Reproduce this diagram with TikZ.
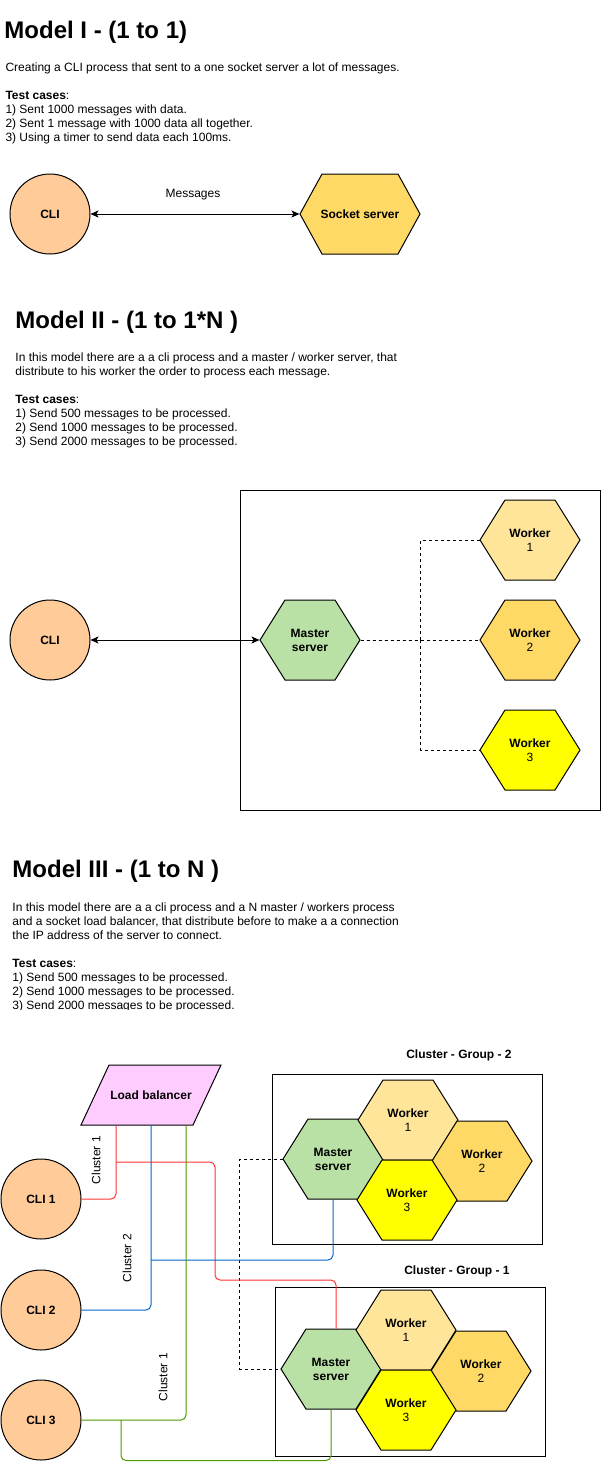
\documentclass[tikz,border=0pt]{standalone}
\usepackage{fontspec}
\setmainfont{Liberation Sans}
\usetikzlibrary{arrows.meta}
\definecolor{cliorange}{HTML}{FFCC99}
\definecolor{mastergreen}{HTML}{B9E0A5}
\definecolor{workerlight}{HTML}{FFE599}
\definecolor{workermid}{HTML}{FFD966}
\definecolor{workeryellow}{HTML}{FFFF00}
\definecolor{lbpink}{HTML}{FFCCFF}
\definecolor{redline}{HTML}{FF3333}
\definecolor{blueline}{HTML}{0066CC}
\definecolor{greenline}{HTML}{4D9900}
% hexagon: name, centre, width, inset, fill, text
\newcommand{\hexa}[6]{%
	\filldraw[fill=#5] (#2) ++(-#3/2,0) -- ++(#4,-40) -- ++(#3-2*#4,0) -- ++(#4,40) -- ++(-#4,40) -- ++(-#3+2*#4,0) -- cycle;
	\node[shapetext,minimum width=#3pt,minimum height=80pt] (#1) at (#2) {#6};}
\begin{document}
\begin{tikzpicture}[x=1pt,y=-1pt,line width=1pt,>={Stealth[length=8pt,width=7pt,inset=2pt]},
	txt/.style={inner sep=0,font=\fontsize{12}{14}\selectfont,align=left,anchor=base west},
	ttl/.style={inner sep=0,font=\fontsize{24}{28}\selectfont\bfseries,anchor=base west},
	shapetext/.style={inner sep=0,font=\fontsize{12}{14}\selectfont,align=center},
	cli/.style={circle,draw,fill=cliorange,minimum size=80pt,inner sep=0,font=\fontsize{12}{14}\selectfont\bfseries},
	cl1/.style={color=redline,rounded corners=5pt},
	cl2/.style={color=blueline,rounded corners=5pt},
	cl3/.style={color=greenline,rounded corners=5pt}]
	\fill[white] (0,0) rectangle (602,1462);
	\useasboundingbox (0,0) rectangle (602,1462);
	% Model I
	\node[ttl] (t1) at (4,38) {Model I - (1 to 1)};
	\node[txt] (d1) at (5,141) {Creating a CLI process that sent to a one socket server a lot of messages.\\[14pt]\textbf{Test cases}:\\1) Sent 1000 messages with data.\\2) Sent 1 message with 1000 data all together.\\3) Using a timer to send data each 100ms.};
	\node[cli] (cli) at (50,214) {CLI};
	\hexa{sock}{360,214}{120}{22}{workermid}{\textbf{Socket server}}
	\draw[<->] (cli) -- (sock);
	\node[shapetext] (msg) at (193,195) {Messages};
	% Model II
	\node[ttl] (t2) at (15,328) {Model II - (1 to 1*N )};
	\node[txt] (d2) at (15,445) {In this model there are a a cli process and a master / worker server, that\\distribute to his worker the order to process each message.\\[14pt]\textbf{Test cases}:\\1) Send 500 messages to be processed.\\2) Send 1000 messages to be processed.\\3) Send 2000 messages to be processed.};
	\draw (240,490) rectangle (600,810);
	\node[cli] (cliB) at (50,640) {CLI};
	\hexa{msB}{310,640}{100}{25}{mastergreen}{\textbf{Master}\\\textbf{server}}
	\hexa{wB1}{530,540}{100}{25}{workerlight}{\textbf{Worker}\\1}
	\hexa{wB2}{530,640}{100}{25}{workermid}{\textbf{Worker}\\2}
	\hexa{wB3}{530,750}{100}{25}{workeryellow}{\textbf{Worker}\\3}
	\draw[<->] (cliB) -- (msB);
	\draw[dashed] (msB.east) -- (wB2.west);
	\draw[dashed] (msB.east) -- ++(60,0) |- (wB1.west);
	\draw[dashed] (msB.east) -- ++(60,0) |- (wB3.west);
	% Model III
	\node[ttl] (t3) at (12,877) {Model III - (1 to N )};
	\begin{scope}
		\clip (0,890) rectangle (602,1009);
		\node[txt] (d3) at (12,1009) {In this model there are a a cli process and a N master / workers process\\and a socket load balancer, that distribute before to make a a connection\\the IP address of the server to connect.\\[14pt]\textbf{Test cases}:\\1) Send 500 messages to be processed.\\2) Send 1000 messages to be processed.\\3) Send 2000 messages to be processed.};
	\end{scope}
	\node[shapetext] (lg2) at (459,1055) {\textbf{Cluster - Group - 2}};
	\node[shapetext] (lg1) at (457,1271) {\textbf{Cluster - Group - 1}};
	\draw (272,1074) rectangle (542,1244);
	\draw (275,1287) rectangle (545,1456);
	\filldraw[fill=lbpink] (81,1125) -- (109,1065) -- (221,1065) -- (193,1125) -- cycle;
	\node[shapetext,minimum width=140pt,minimum height=60pt] (lb) at (151,1095) {\textbf{Load balancer}};
	\node[cli] (cli1) at (41,1199) {CLI 1};
	\node[cli] (cli2) at (41,1310) {CLI 2};
	\node[cli] (cli3) at (41,1420) {CLI 3};
	\hexa{ms2}{333,1159}{100}{25}{mastergreen}{\textbf{Master}\\\textbf{server}}
	\hexa{wa1}{408,1120}{100}{25}{workerlight}{\textbf{Worker}\\1}
	\hexa{wa2}{482,1161}{100}{25}{workermid}{\textbf{Worker}\\2}
	\hexa{wa3}{407,1200}{100}{25}{workeryellow}{\textbf{Worker}\\3}
	\hexa{ms1}{331,1369}{100}{25}{mastergreen}{\textbf{Master}\\\textbf{server}}
	\hexa{wb1}{406,1330}{100}{25}{workerlight}{\textbf{Worker}\\1}
	\hexa{wb2}{481,1371}{100}{25}{workermid}{\textbf{Worker}\\2}
	\hexa{wb3}{406,1410}{100}{25}{workeryellow}{\textbf{Worker}\\3}
	\draw[dashed] (ms2.west) -- ++(-43,0) |- (ms1.west);
	\coordinate (r1) at (116,1162);
	\coordinate (b1) at (151,1260);
	\coordinate (g1) at (121,1420);
	\draw[cl1] (cli1.east) -| ([xshift=-35pt]lb.south);
	\draw[cl1] (r1) -| ++(99,118) -| ([xshift=5pt]ms1.north);
	\draw[cl2] (cli2.east) -| (lb.south);
	\draw[cl2] (b1) -| (ms2.south);
	\draw[cl3] (cli3.east) -| ([xshift=35pt]lb.south);
	\draw[cl3] (g1) |- ([yshift=-51pt]ms1.south) -- (ms1.south);
	\node[shapetext,rotate=90] (c1a) at (96,1160) {Cluster 1};
	\node[shapetext,rotate=90] (c2) at (127,1258) {Cluster 2};
	\node[shapetext,rotate=90] (c1b) at (163,1377) {Cluster 1};
\end{tikzpicture}
\end{document}
